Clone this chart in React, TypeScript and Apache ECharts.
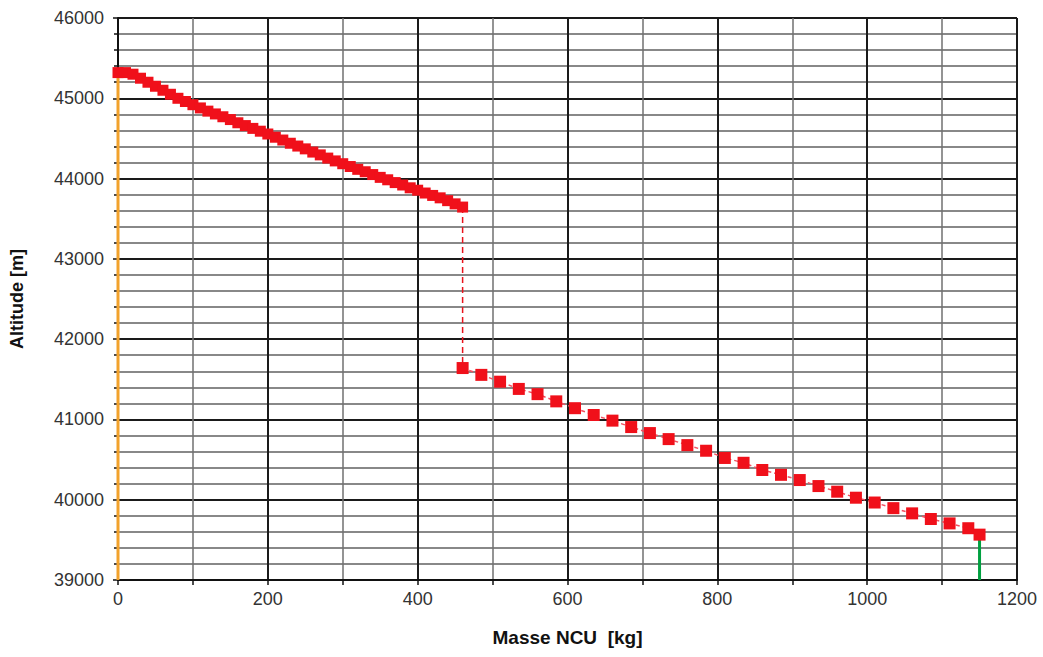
import React, { useEffect, useRef } from "react";
import * as echarts from "echarts";

// Stage 1 (dense markers), mass [kg] and altitude [m]
const stage1Mass = [0, 10, 20, 30, 40, 50, 60, 70, 80, 90, 100, 110, 120, 130, 140, 150, 160, 170, 180, 190, 200, 210, 220, 230, 240, 250, 260, 270, 280, 290, 300, 310, 320, 330, 340, 350, 360, 370, 380, 390, 400, 410, 420, 430, 440, 450, 460];
const stage1Alt = [45320, 45320, 45300, 45250, 45200, 45150, 45100, 45050, 45000, 44960, 44920, 44880, 44840, 44805, 44770, 44735, 44695, 44660, 44625, 44590, 44555, 44515, 44480, 44440, 44405, 44370, 44330, 44295, 44255, 44220, 44185, 44150, 44115, 44085, 44050, 44015, 43985, 43950, 43920, 43885, 43855, 43820, 43790, 43760, 43725, 43685, 43645];

// Stage 2 (large markers)
const stage2Mass = [460, 485, 510, 535, 560, 585, 610, 635, 660, 685, 710, 735, 760, 785, 810, 835, 860, 885, 910, 935, 960, 985, 1010, 1035, 1060, 1085, 1110, 1135, 1150];
const stage2Alt = [41640, 41555, 41470, 41380, 41315, 41225, 41140, 41055, 40985, 40905, 40830, 40755, 40680, 40610, 40520, 40460, 40370, 40310, 40245, 40170, 40100, 40025, 39965, 39895, 39830, 39760, 39705, 39645, 39565];

// Vertical reference lines
const orangeLine = [[0, 39000], [0, 45320]];
const greenLine = [[1150, 39000], [1150, 39565]];
const dropLine = [[460, 43645], [460, 41640]];

const xTitle = "Masse NCU  [kg]";
const yTitle = "Altitude [m]";

export default function App() {
  const ref = useRef<HTMLDivElement>(null);
  useEffect(() => {
    const chart = echarts.init(ref.current!, null, { renderer: "svg" });
    const zip = (a: number[], b: number[]) => a.map((v, i) => [v, b[i]]);
    chart.setOption({
      animation: false,
      backgroundColor: "#ffffff",
      grid: { left: 113, right: 26, top: 18, bottom: 77, containLabel: false },
      xAxis: {
        type: "value",
        min: 0,
        max: 1200,
        interval: 200,
        name: xTitle,
        nameLocation: "middle",
        nameGap: 48,
        nameTextStyle: { fontFamily: "Liberation Sans, Arial", fontWeight: "bold", fontSize: 19, color: "#111" },
        axisLine: { show: true, lineStyle: { color: "#111", width: 2 } },
        axisTick: { show: true, length: 5, lineStyle: { color: "#111", width: 1.5 } },
        minorTick: { show: true, splitNumber: 2, length: 5, lineStyle: { color: "#111", width: 1.5 } },
        axisLabel: { color: "#333", fontFamily: "Liberation Sans, Arial", fontSize: 18, margin: 10, formatter: (v: number) => String(v) },
        splitLine: { show: true, lineStyle: { color: "#1a1a1a", width: 2 } },
        minorSplitLine: { show: true, lineStyle: { color: "#707070", width: 1.5 } },
      },
      yAxis: {
        type: "value",
        min: 39000,
        max: 46000,
        interval: 1000,
        name: yTitle,
        nameLocation: "middle",
        nameGap: 92,
        nameRotate: 90,
        nameTextStyle: { fontFamily: "Liberation Sans, Arial", fontWeight: "bold", fontSize: 18, color: "#111" },
        axisLine: { show: true, onZero: false, lineStyle: { color: "#111", width: 2 } },
        axisTick: { show: true, length: 5, lineStyle: { color: "#111", width: 1.5 } },
        minorTick: { show: true, splitNumber: 5, length: 4, lineStyle: { color: "#111", width: 1.5 } },
        axisLabel: { color: "#333", fontFamily: "Liberation Sans, Arial", fontSize: 18, margin: 14, formatter: (v: number) => String(v) },
        splitLine: { show: true, lineStyle: { color: "#1a1a1a", width: 2 } },
        minorSplitLine: { show: true, lineStyle: { color: "#606060", width: 1.5 } },
      },
      series: [
        {
          type: "line",
          data: orangeLine,
          symbol: "none",
          lineStyle: { color: "#f2a22c", width: 3 },
          z: 3,
        },
        {
          type: "line",
          data: greenLine,
          symbol: "none",
          lineStyle: { color: "#00a040", width: 3 },
          z: 3,
        },
        {
          type: "line",
          data: dropLine,
          symbol: "none",
          lineStyle: { color: "#e8141c", width: 1.5, type: [6, 4] },
          z: 4,
        },
        {
          type: "line",
          data: zip(stage1Mass, stage1Alt),
          symbol: "rect",
          symbolSize: 11,
          itemStyle: { color: "#f0101a" },
          lineStyle: { color: "#f0101a", width: 3 },
          z: 5,
        },
        {
          type: "line",
          data: zip(stage2Mass, stage2Alt),
          symbol: "rect",
          symbolSize: 12,
          itemStyle: { color: "#f0101a" },
          lineStyle: { color: "#f25060", width: 1.5, type: [4, 3] },
          z: 5,
        },
      ],
    });
    return () => chart.dispose();
  }, []);
  return (
    <div
      ref={ref}
      style={{ position: "fixed", left: 0, top: 0, width: 1043, height: 657, background: "#fff" }}
    />
  );
}
